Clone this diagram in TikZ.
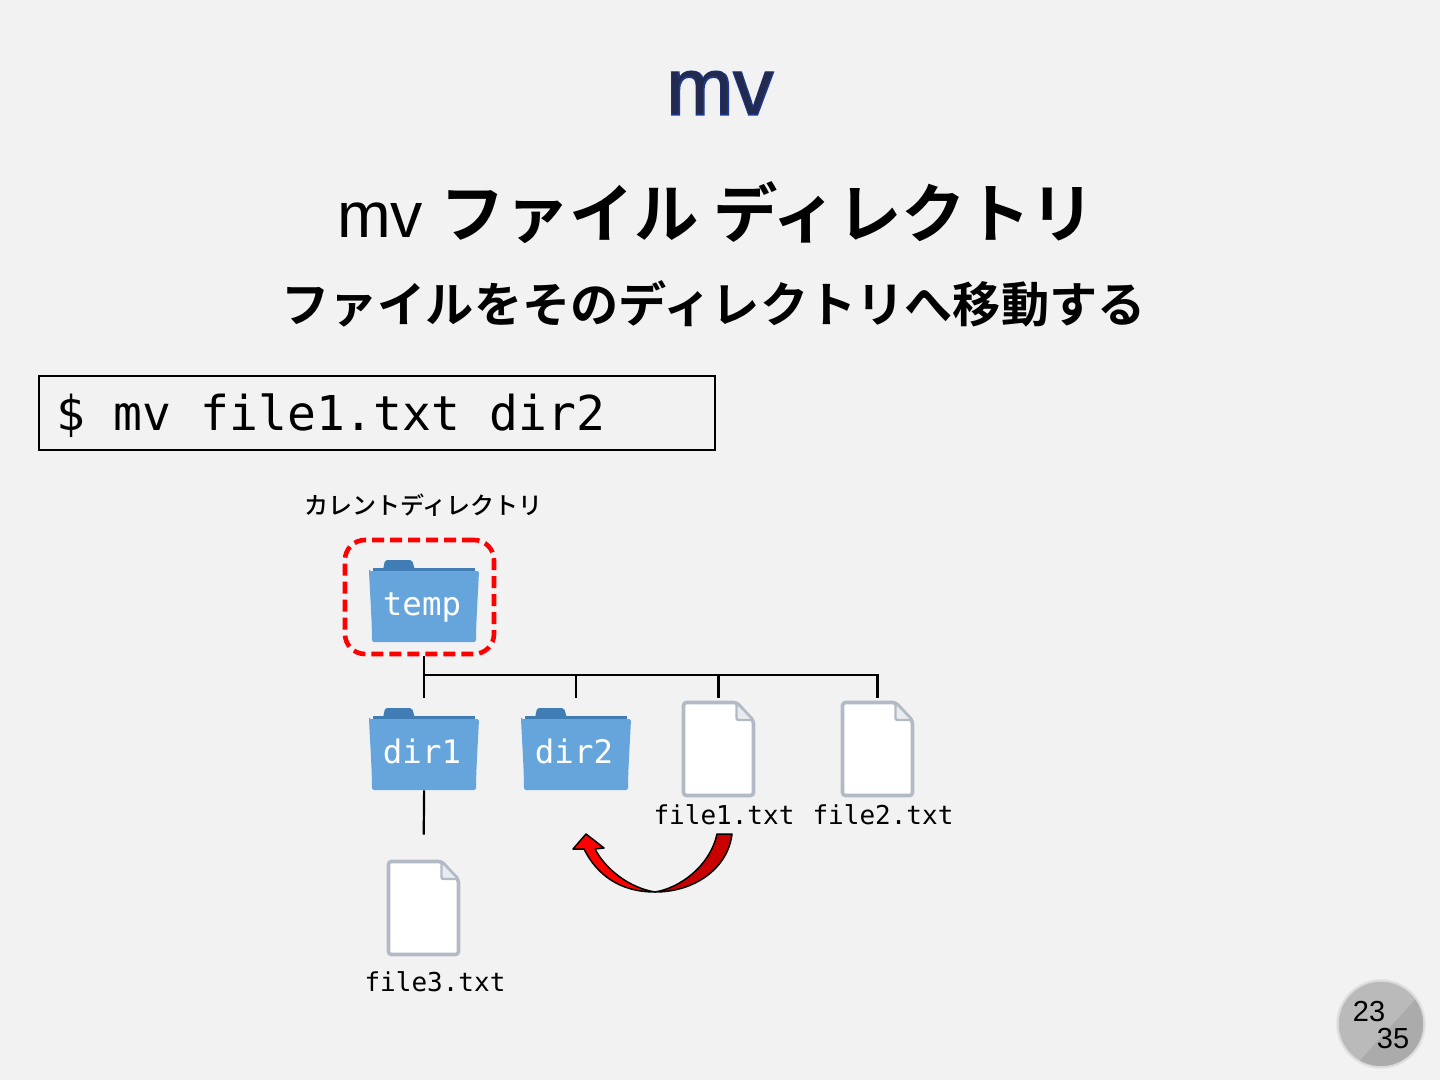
\documentclass[tikz,border=0pt]{standalone}
\usepackage{fontspec}
\setmainfont{Liberation Sans}
\setmonofont{DejaVu Sans Mono}
\newfontfamily\jpfont{Noto Sans CJK JP Medium}
\newfontfamily\jpbold{Noto Sans CJK JP Bold}
\newfontfamily\outerfont[FakeBold=2.5]{Liberation Sans}
\definecolor{bgcol}{HTML}{F2F2F2}
\definecolor{titlecol}{HTML}{222A50}
\definecolor{titleedge}{HTML}{1F3A93}
\definecolor{foldercol}{HTML}{66A5DC}
\definecolor{tabcol}{HTML}{3F7DB4}
\definecolor{doccol}{HTML}{B2BAC6}
\definecolor{foldcol}{HTML}{E8EBEF}
\definecolor{arrowdark}{HTML}{C80000}
\tikzset{
  foldernode/.style={minimum width=55pt, minimum height=53pt, inner sep=0pt,
    text height=12pt, text depth=0pt,
    text=white, font=\ttfamily\fontsize{16.2}{16}\selectfont},
  docnode/.style={minimum width=36.5pt, minimum height=51pt, inner sep=0pt},
  doclabel/.style={inner sep=0pt, font=\ttfamily\fontsize{13}{14}\selectfont},
  treeline/.style={line width=1.1pt, black},
  folder/.pic={
    \fill[tabcol, rounded corners=1pt] (-41,-33) -- (-39,-43) -- (-12,-43) -- (-9,-33) -- cycle;
    \fill[tabcol] (-51,-31) -- (-51,-35) -- (51,-35) -- (51,-31) -- cycle;
    \fill[foldercol, rounded corners=1pt] (-55,-32) -- (55,-32)
      .. controls (54,-10) and (52,20) .. (52,39) -- (-52,39)
      .. controls (-52,20) and (-54,-10) .. cycle;
  },
  docpic/.pic={
    \filldraw[fill=white, draw=doccol, line width=1.8pt, rounded corners=1.5pt]
      (-35,-46.5) -- (18,-46.5) -- (35,-28) -- (35,46.5) -- (-35,46.5) -- cycle;
    \filldraw[fill=foldcol, draw=doccol, line width=1.2pt, rounded corners=1pt]
      (18,-46.5) -- (18,-29) -- (35,-29) -- cycle;
  },
}
\begin{document}
\begin{tikzpicture}[x=0.5pt, y=-0.5pt]
  \useasboundingbox (0,0) rectangle (1440,1080);
  \fill[bgcol] (0,0) rectangle (1440,1080);

  % headings
  \node[inner sep=0pt, text=titlecol, font=\fontsize{40}{40}\selectfont] (title) at (720,93)
    {\rlap{\color{titleedge}\outerfont mv}mv};
  \node[inner sep=0pt, font=\fontsize{32.2}{38}\selectfont] (usage) at (716,213)
    {mv {\jpbold ファイル ディレクトリ}};
  \node[inner sep=0pt, font=\jpbold\fontsize{24.1}{28}\selectfont] (desc) at (713.5,304)
    {ファイルをそのディレクトリへ移動する};

  % command
  \node[draw, line width=0.6pt, inner xsep=8.5pt, inner ysep=0pt, text width=321pt, align=left,
    minimum height=37pt, text height=19pt, text depth=2pt,
    font=\fontsize{24}{24}\selectfont\ttfamily] (cmd) at (377,413)
    {\spaceskip=14.45pt\relax \$ mv file1.txt dir2};

  % tree
  \foreach \nm/\x/\y in {temp/424/603, dir1/424/751, dir2/576/751} {
    \pic at (\x,\y) {folder};
    \node[foldernode] (\nm) at (\x,\y) {\nm\kern2pt};
  }
  \foreach \nm/\x/\y in {file1/718.5/749, file2/877.5/749, file3/423.5/908} {
    \pic at (\x,\y) {docpic};
    \node[docnode] (\nm) at (\x,\y) {};
  }
  \node[doclabel] (lab1) at (724,815) {file1.txt};
  \node[doclabel] (lab2) at (883,815) {file2.txt};
  \node[doclabel] (lab3) at (435,982) {file3.txt};
  \node[inner sep=0pt, font=\jpfont\fontsize{12}{14}\selectfont] (curlab) at (423.5,505)
    {カレントディレクトリ};
  \node[draw=red, line width=2.3pt, dashed, dash pattern=on 6pt off 3pt, rounded corners=10pt,
    minimum width=74.5pt, minimum height=57pt] (cur) at (419.5,597) {};

  \coordinate (bus) at (424,675);
  \draw[treeline] (temp |- cur.south) -- (dir1.north);
  \draw[treeline] (bus) -| (file2.north);
  \draw[treeline] (bus) -| (dir2.north);
  \draw[treeline] (bus) -| (file1.north);
  \draw[treeline, shorten <=-7pt, shorten >=11pt] (dir1.south) -- (file3.north);

  % move arrow
  \filldraw[fill=arrowdark, draw=black, line width=0.75pt, line join=round]
    (732,834) .. controls (728,868) and (695,892) .. (655,892)
    .. controls (680,888) and (710,866) .. (717,834) -- cycle;
  \filldraw[fill=red, draw=black, line width=0.75pt, line join=round]
    (655,892) .. controls (620,892) and (597,875) .. (584,849)
    -- (573,849) -- (586,834) -- (604,848) -- (595,849)
    .. controls (606,870) and (630,888) .. (655,892) -- cycle;

  % page badge
  \fill[black!85!white, opacity=0.06] (1381,1024) circle (45);
  \begin{scope}
    \clip (1381,1024) circle (43);
    \fill[black!27] (1320,970) rectangle (1440,1080);
    \fill[black!33] (1355,1066) -- (1422,992) -- (1440,1080) -- cycle;
  \end{scope}
  \draw[black!15, line width=0.75pt] (1381,1024) circle (43);
  \node[inner sep=0pt, font=\fontsize{14.5}{16}\selectfont] (pagenum) at (1369,1012) {23};
  \node[inner sep=0pt, font=\fontsize{14.5}{16}\selectfont] (pagetot) at (1393,1039) {35};
\end{tikzpicture}
\end{document}
